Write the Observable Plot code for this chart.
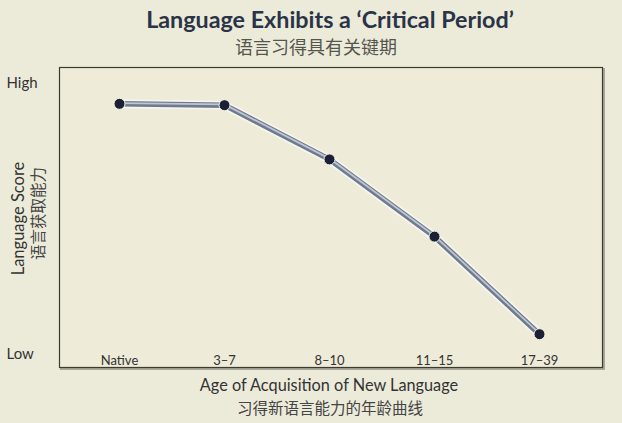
<!DOCTYPE html>
<html>
<head>
<meta charset="utf-8">
<script src="https://cdn.jsdelivr.net/npm/d3@7"></script>
<script src="https://cdn.jsdelivr.net/npm/@observablehq/plot@0.6"></script>
<style>
  html, body { margin: 0; padding: 0; background: #ECEBD9; }
  #page { position: relative; width: 622px; height: 423px; overflow: hidden; background: #ECEBD9; }
  .abs { position: absolute; white-space: nowrap; transform: translateX(-50%); }
  #title { left: 330px; top: 4px; font: bold 23.3px Lato, sans-serif; color: #2a3347; line-height: 30px; }
  #subtitle { left: 316px; top: 35px; font: 18px "Noto Sans CJK SC", sans-serif; color: #55554f; line-height: 22px; }
  #header { position: relative; height: 62px; }
  #footer { position: relative; height: 41px; }
  #xlab1 { left: 329px; top: -7px; font: 16.3px Lato, sans-serif; color: #333; line-height: 20px; }
  #xlab2 { left: 330px; top: 15px; font: 15.5px "Noto Sans CJK SC", sans-serif; color: #444; line-height: 20px; }
  svg { display: block; }
</style>
</head>
<body>
<div id="page">
  <div id="header">
    <div class="abs" id="title">Language Exhibits a ‘Critical Period’</div>
    <div class="abs" id="subtitle">语言习得具有关键期</div>
  </div>
  <div id="chart"></div>
  <div id="footer">
    <div class="abs" id="xlab1">Age of Acquisition of New Language</div>
    <div class="abs" id="xlab2">习得新语言能力的年龄曲线</div>
  </div>
</div>
<script>
const ages = ["Native", "3–7", "8–10", "11–15", "17–39"];
const scores = [92.5, 92, 72, 43.5, 7.5];
const yTickValues = [0, 100];
const yTickLabels = ["Low", "High"];
const yLabelEn = "Language Score";
const yLabelZh = "语言获取能力";

const data = ages.map((a, i) => ({age: a, score: scores[i]}));

const chart = Plot.plot({
  width: 622,
  height: 320,
  marginTop: 5,
  marginBottom: 15,
  marginLeft: 59,
  marginRight: 20,
  style: {fontFamily: "Lato, sans-serif", background: "transparent", color: "#333"},
  x: {type: "point", domain: ages, padding: 0, insetLeft: 59, insetRight: 63, axis: null},
  y: {domain: [0, 100], insetTop: 16, insetBottom: 13, axis: null},
  marks: [
    Plot.frame({stroke: "#a9a79a", strokeWidth: 2, dx: 1.5, dy: 1.5}),
    Plot.frame({stroke: "#3b3b30", strokeWidth: 1.2, fill: "#EEEBD8"}),
    Plot.axisY({ticks: yTickValues, tickSize: 0, tickFormat: d => yTickLabels[yTickValues.indexOf(d)],
                textAnchor: "start", dx: -44, fontSize: 15, fill: "#333", label: null}),
    Plot.axisX({tickSize: 0, lineAnchor: "middle", dy: -16, fontSize: 13, fill: "#333", label: null}),
    Plot.text([yLabelEn], {text: d => d, frameAnchor: "left", textAnchor: "middle", rotate: -90, dx: -41, dy: 1, fontSize: 16.5, fill: "#333"}),
    Plot.text([yLabelZh], {text: d => d, frameAnchor: "left", textAnchor: "middle", rotate: -90, dx: -20, dy: -4, fontSize: 15.5, fill: "#444", fontFamily: "Noto Sans CJK SC"}),
    Plot.line(data, {x: "age", y: "score", stroke: "#ffffff", strokeOpacity: 0.55, strokeWidth: 9}),
    Plot.line(data, {x: "age", y: "score", stroke: "#6d7a8f", strokeWidth: 5.5}),
    Plot.line(data, {x: "age", y: "score", stroke: "#bfc6d0", strokeWidth: 1.8, dy: -0.8}),
    Plot.dot(data, {x: "age", y: "score", r: 5.5, fill: "#1b2034", stroke: "#f4f4ee", strokeWidth: 1})
  ]
});
document.getElementById("chart").appendChild(chart);
</script>
</body>
</html>
